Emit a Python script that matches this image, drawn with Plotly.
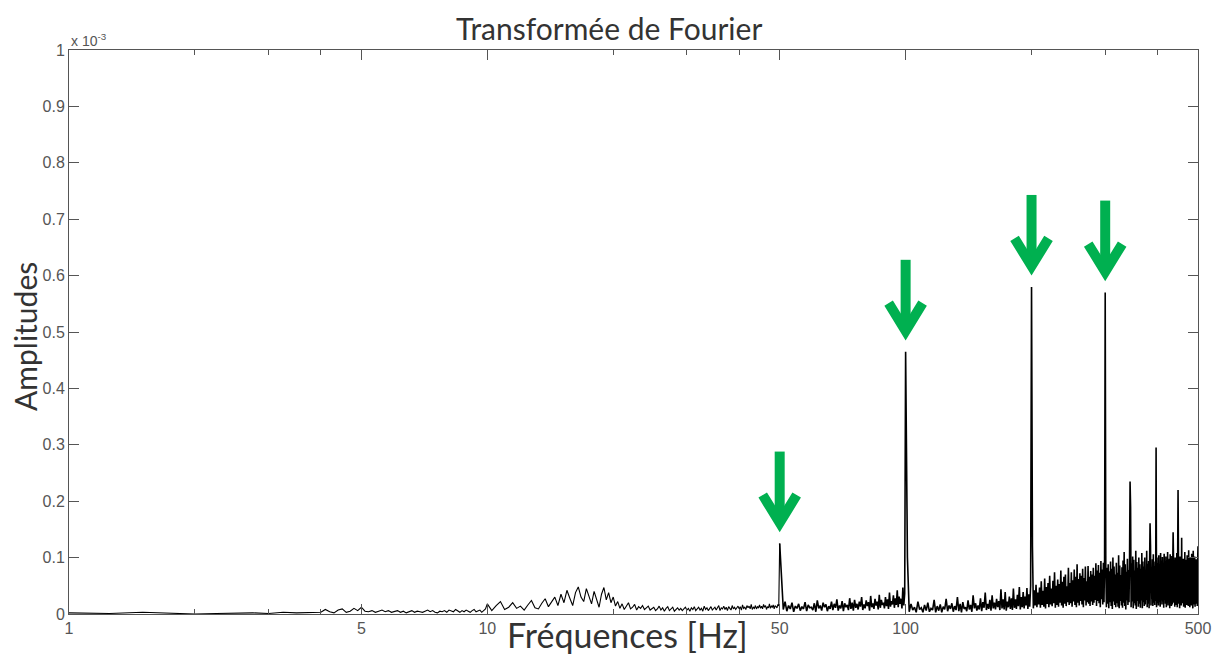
import numpy as np
import plotly.graph_objects as go

# ---------------- data (amplitudes in units of 1e-6; axis shows x10^-3) ----------------
# each segment: start frequency [Hz], bin step [Hz], amplitudes
seg_a_start, seg_a_step = 1.0, 0.25
seg_a = [2, 1, 3, 1, 0, 1, 2, 2, 1, 3, 2, 2]

seg_b_start, seg_b_step = 4.0, 0.1
seg_b = [3, 8, 4, 2, 7, 9, 3, 5, 10, 6,
         12, 5, 4, 6, 3, 5, 7, 4, 6, 3,
         4, 6, 3, 5, 2, 4, 6, 3, 5, 4,
         3, 5, 7, 4, 6, 3, 2, 5, 4, 6,
         3, 7, 5, 4, 8, 5, 3, 6, 4, 7,
         5, 3, 6, 8, 4, 5, 7, 3, 6, 9]

seg_c_start, seg_c_step = 10.0, 0.25
seg_c = [18, 6, 15, 22, 8, 12, 20, 10, 14, 7, 16, 24, 11, 9, 19, 27, 13, 22, 30, 15,
         35, 20, 42, 28, 15, 38, 48, 30, 22, 45, 33, 18, 40, 26, 12, 35, 47, 25, 38, 20,
         30, 14, 22, 10, 18, 8, 15, 20, 9, 12, 17, 7, 13, 10, 15, 8, 11, 14, 7, 10,
         12, 6, 9, 14, 7, 11, 5, 10, 13, 6, 9, 12, 5, 8, 11, 7, 10, 6, 9, 12,
         7, 10, 5, 11, 8, 13, 6, 9, 12, 7, 10, 5, 14, 8, 11, 6, 9, 13, 7, 10,
         12, 7, 10, 15, 6, 11, 9, 14, 8, 12, 6, 13, 10, 7, 15, 9, 12, 8, 11, 14,
         9, 13, 7, 16, 10, 12, 8, 15, 11, 14, 9, 17, 8, 12, 10, 15, 9, 13, 11, 16,
         10, 14, 9, 17, 12, 15, 8, 13, 11, 18, 10, 14, 12, 16, 9, 15, 13, 11, 17, 14]

seg_d_start, seg_d_step = 50.0, 0.5
seg_d = [125, 70, 8, 22, 5, 15, 9, 20, 4, 14,
         10, 18, 6, 13, 9, 21, 5, 16, 11, 12,
         7, 19, 4, 24, 10, 15, 6, 20, 12, 17,
         5, 14, 9, 22, 7, 18, 11, 26, 6, 15,
         10, 23, 5, 19, 12, 16, 7, 28, 9, 20,
         6, 25, 11, 18, 8, 22, 13, 30, 7, 17,
         10, 24, 14, 21, 6, 32, 12, 19, 9, 27,
         15, 22, 8, 34, 11, 25, 16, 20, 10, 30,
         14, 26, 9, 38, 13, 23, 17, 33, 11, 28,
         16, 42, 12, 31, 18, 27, 10, 47, 15, 36]

seg_e_start, seg_e_step = 100.0, 1.0
seg_e = [465, 100, 4, 18, 7, 12, 3, 22, 8, 11,
         3, 16, 6, 20, 4, 10, 7, 25, 3, 14,
         6, 17, 3, 13, 8, 27, 5, 15, 9, 19,
         4, 14, 7, 30, 5, 18, 3, 21, 9, 12,
         5, 24, 8, 16, 4, 33, 10, 19, 6, 15,
         8, 28, 5, 21, 11, 38, 7, 18, 9, 25,
         6, 33, 10, 20, 8, 27, 12, 23, 7, 44,
         10, 26, 8, 39, 6, 22, 12, 31, 9, 28,
         7, 45, 11, 26, 9, 34, 14, 48, 8, 30,
         12, 39, 10, 31, 15, 46, 9, 35, 13, 50,
         580, 120, 10, 42, 15, 52, 12, 38, 17, 47,
         11, 58, 16, 41, 13, 63, 10, 48, 18, 55,
         12, 68, 17, 45, 14, 59, 19, 74, 11, 50,
         16, 61, 13, 53, 20, 77, 15, 57, 11, 66,
         18, 70, 14, 49, 21, 82, 16, 55, 19, 74,
         13, 60, 22, 79, 16, 66, 12, 88, 20, 62,
         15, 72, 23, 68, 17, 80, 12, 64, 24, 84,
         15, 58, 21, 85, 18, 66, 14, 76, 22, 70,
         16, 82, 20, 68, 25, 90, 14, 77, 23, 87,
         19, 73, 12, 94, 26, 79, 17, 91, 21, 98,
         570, 80, 12, 82, 18, 88, 10, 76, 21, 93,
         14, 80, 9, 100, 22, 84, 16, 70, 12, 91,
         19, 73, 13, 104, 10, 86, 23, 69, 15, 83,
         11, 95, 20, 110, 14, 88, 8, 75, 24, 98,
         16, 78, 21, 92, 235, 190, 12, 90, 22, 102,
         10, 96, 19, 77, 15, 112, 9, 92, 23, 82,
         13, 100, 18, 88, 11, 80, 24, 108, 10, 93,
         21, 84, 14, 100, 17, 73, 25, 112, 12, 89,
         18, 94, 10, 87, 161, 120, 15, 77, 26, 97,
         14, 106, 20, 85, 16, 93, 23, 295, 12, 100,
         19, 90, 15, 104, 21, 82, 13, 108, 24, 95,
         17, 101, 22, 91, 11, 107, 25, 84, 18, 102,
         12, 88, 19, 110, 15, 80, 23, 98, 10, 106,
         21, 92, 14, 103, 17, 87, 145, 96, 20, 82,
         13, 100, 23, 90, 16, 108, 12, 94, 220, 104,
         18, 87, 10, 102, 24, 95, 15, 135, 19, 89,
         22, 98, 13, 84, 18, 110, 11, 91, 25, 96,
         16, 104, 20, 82, 14, 113, 23, 93, 12, 100,
         19, 89, 15, 107, 21, 96, 10, 112, 24, 86,
         17, 102, 13, 92, 22, 97, 18, 87, 14, 94,
         120]

# harmonics marked with green arrows
arrow_freqs = [50, 100, 200, 300]

# axis ticks
x_tick_vals = [1, 5, 10, 50, 100, 500]
x_tick_text = ["1", "5", "10", "50", "100", "500"]
x_minor_vals = [2, 3, 4, 20, 30, 40, 200, 300, 400]
y_tick_vals = [0, 0.1, 0.2, 0.3, 0.4, 0.5, 0.6, 0.7, 0.8, 0.9, 1.0]
y_tick_text = ["0", "0.1", "0.2", "0.3", "0.4", "0.5", "0.6", "0.7", "0.8", "0.9", "1"]

# ---------------- build series ----------------
segments = [(seg_a_start, seg_a_step, seg_a), (seg_b_start, seg_b_step, seg_b),
            (seg_c_start, seg_c_step, seg_c), (seg_d_start, seg_d_step, seg_d),
            (seg_e_start, seg_e_step, seg_e)]
freq, amp = [], []
for start, step, vals in segments:
    for i, v in enumerate(vals):
        freq.append(round(start + step * i, 4))
        amp.append(v / 1000.0)  # -> units of 1e-3

GREEN = "#00B050"
AXC = "#555555"
ARROW_GAP = 0.033
ARROW_LEN = 0.13
HEAD_H = 0.053
HEAD_W = 1.098  # multiplicative (log axis)
DENSE_FROM = 50.0  # dense part of the spectrum drawn slightly heavier

fig = go.Figure()
lo = [(f, a) for f, a in zip(freq, amp) if f <= DENSE_FROM]
hi = [(f, a) for f, a in zip(freq, amp) if f >= DENSE_FROM]
fig.add_trace(go.Scatter(x=[p[0] for p in lo], y=[p[1] for p in lo], mode="lines",
                         line=dict(color="black", width=1.1), hoverinfo="skip"))
fig.add_trace(go.Scatter(x=[p[0] for p in hi], y=[p[1] for p in hi], mode="lines",
                         line=dict(color="black", width=1.6), hoverinfo="skip"))

for f in arrow_freqs:
    peak = max(a for fr, a in zip(freq, amp) if abs(fr - f) < 0.6)
    tip = peak + ARROW_GAP
    top = tip + ARROW_LEN
    fig.add_trace(go.Scatter(
        x=[f, f, None, f / HEAD_W, f, f * HEAD_W],
        y=[top, tip + 0.012, None, tip + HEAD_H, tip + 0.004, tip + HEAD_H],
        mode="lines", line=dict(color=GREEN, width=10),
        hoverinfo="skip"))

tickfont = dict(family="Liberation Sans, Arial", size=16, color=AXC)
# page body has an 8px default margin: compensate so the axes box lands where it should
fig.update_layout(
    width=1215, height=647,
    margin=dict(l=61, r=23, t=42, b=41),
    paper_bgcolor="white", plot_bgcolor="white",
    showlegend=False,
    xaxis=dict(type="log", range=[0, np.log10(500)],
               showline=True, linecolor=AXC, linewidth=1, mirror="allticks",
               ticks="inside", ticklen=10, tickcolor=AXC, tickwidth=1,
               tickvals=x_tick_vals, ticktext=x_tick_text, tickfont=tickfont,
               showgrid=False, zeroline=False,
               minor=dict(tickvals=x_minor_vals, ticks="inside", ticklen=5,
                          tickcolor=AXC, tickwidth=1, showgrid=False)),
    yaxis=dict(range=[0, 1],
               showline=True, linecolor=AXC, linewidth=1, mirror="allticks",
               ticks="inside", ticklen=10, tickcolor=AXC, tickwidth=1,
               tickvals=y_tick_vals, ticktext=y_tick_text, tickfont=tickfont,
               showgrid=False, zeroline=False),
    annotations=[
        dict(text="Transformée de Fourier", xref="paper", yref="paper",
             x=0.478, y=1.039, xanchor="center", yanchor="middle", showarrow=False,
             font=dict(family="Lato", size=30, color="#333333")),
        dict(text="Fréquences [Hz]", xref="paper", yref="paper",
             x=0.495, y=-0.037, xanchor="center", yanchor="middle", showarrow=False,
             font=dict(family="Lato", size=34, color="#333333")),
        dict(text="Amplitudes", xref="paper", yref="paper", textangle=-90,
             x=-0.039, y=0.493, xanchor="center", yanchor="middle", showarrow=False,
             font=dict(family="Lato", size=30, color="#333333")),
        dict(text="x 10<sup>-3</sup>", xref="paper", yref="paper",
             x=0.0, y=1.018, xanchor="left", yanchor="middle", showarrow=False,
             font=dict(family="Liberation Sans, Arial", size=14, color=AXC)),
    ],
)

fig.write_html("out.html")
